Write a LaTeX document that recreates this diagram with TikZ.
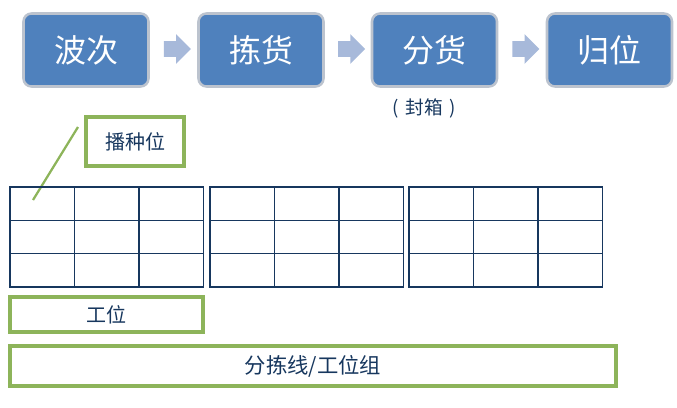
\documentclass[tikz,border=0pt]{standalone}
\usepackage{fontspec}
\setmainfont{Noto Sans CJK SC}
\usepackage{tikz}
\usetikzlibrary{shapes.arrows,calc}

\newcommand{\pxu}{0.75pt}
\definecolor{stepblue}{HTML}{4F81BD}
\definecolor{stepedge}{HTML}{BCC3CE}
\definecolor{arrowblue}{HTML}{A7B9DA}
\definecolor{leafgreen}{HTML}{8DB45A}
\definecolor{navy}{HTML}{17375E}

\tikzset{
  stepbox/.style={draw=stepedge, line width=1.9pt, fill=stepblue, rounded corners=6pt,
    minimum width={125*\pxu}, minimum height={73*\pxu}, inner sep=0pt,
    text=white, font=\fontsize{24}{28}\selectfont},
  flowarrow/.style={single arrow, fill=arrowblue, draw=none, inner xsep=0pt,
    inner ysep={7.5*\pxu}, minimum height={27*\pxu}, single arrow head extend={7*\pxu}},
  greenbox/.style={draw=leafgreen, line width=2.6pt, inner sep=0pt,
    text=navy, font=\fontsize{15}{18}\selectfont},
  gridline/.style={draw=navy, line width=1.1pt, line cap=rect}
}

\begin{document}
\begin{tikzpicture}[x=0.75pt, y=-0.75pt]
\useasboundingbox (0,0) rectangle (677,407);

% process steps
\foreach \name/\txt/\cx in {wave/波次/86, pick/拣货/261, sort/分货/434.5, back/归位/609.5} {
  \node[stepbox] (\name) at (\cx,50) {\txt};
}
\foreach \a/\b in {wave/pick, pick/sort, sort/back} {
  \node[flowarrow] (\a-\b) at ($(\a.east)!0.5!(\b.west)+(0,-1)$) {};
}
\node[text=navy, font=\fontsize{14}{17}\selectfont] (seal) at (424,108) {(\hspace{0.35em}封箱\hspace{0.35em})};

% seeding slot label
\node[greenbox, minimum width={98*\pxu}, minimum height={49*\pxu}] (seed) at (135,141.5) {播种位};
\coordinate (seedtip) at (78,127);
\coordinate (cellmark) at (33,200);
\draw[leafgreen, line width=1.7pt] (seedtip) -- (cellmark);

% slot grids
\foreach \gx in {10, 210, 409} {
  \foreach \i in {0,...,3} {
    \draw[gridline] (\gx+\i*64.5,187) -- (\gx+\i*64.5,287);
    \draw[gridline] (\gx,187+\i*33.33) -- (\gx+193.5,187+\i*33.33);
  }
}

% stations
\node[greenbox, minimum width={193*\pxu}, minimum height={35*\pxu}] (station) at (106.5,314.5) {工位};
\node[greenbox, minimum width={606*\pxu}, minimum height={40*\pxu},
  font=\fontsize{16}{19}\selectfont] (sortline) at (313,366) {分拣线/工位组};
\end{tikzpicture}
\end{document}
